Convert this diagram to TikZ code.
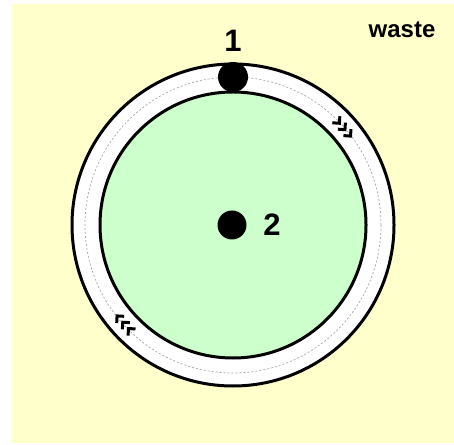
\documentclass[tikz,border=0pt]{standalone}
\usepackage{fontspec}
\setmainfont{Liberation Sans}
\usetikzlibrary{calc}
\begin{document}
\begin{tikzpicture}[x=1pt,y=1pt,
  lbl/.style={font=\bfseries\fontsize{31}{31}\selectfont, inner sep=0pt},
  dot/.style={circle, fill=black, inner sep=0pt},
  chev/.style={line width=3pt, line join=miter, black}]
\definecolor{bgyellow}{HTML}{FFFFCC}
\definecolor{ingreen}{HTML}{CCFFCC}
\useasboundingbox (0,0) rectangle (454,444);
\fill[bgyellow] (12,1) rectangle (454,440);
\coordinate (c) at (233,219);
% ring
\fill[white, draw=black, line width=3pt] (c) circle (161);
\draw[gray!70, line width=0.7pt, dash pattern=on 2pt off 2pt] (c) circle (148);
\fill[ingreen, draw=black, line width=3pt] (c) circle (133);
% chevrons
\foreach \a in {41, 222}{
  \begin{scope}[shift={($(c)+(\a:147)$)}, rotate=\a-90]
    \foreach \i in {-1,0,1}{
      \draw[chev] ({\i*8.5-3.5},5) -- ({\i*8.5+1.5},0) -- ({\i*8.5-3.5},-5);
    }
  \end{scope}
}
% nodes
\node[dot, minimum size=30pt] (n1) at (233,367) {};
\node[lbl] (l1) at (233,403) {1};
\node[dot, minimum size=29pt] (n2) at (232,219) {};
\node[lbl] (l2) at (272,219) {2};
\node[font=\bfseries\fontsize{24}{24}\selectfont, inner sep=0pt] (w) at (402,414) {waste};
\end{tikzpicture}
\end{document}
